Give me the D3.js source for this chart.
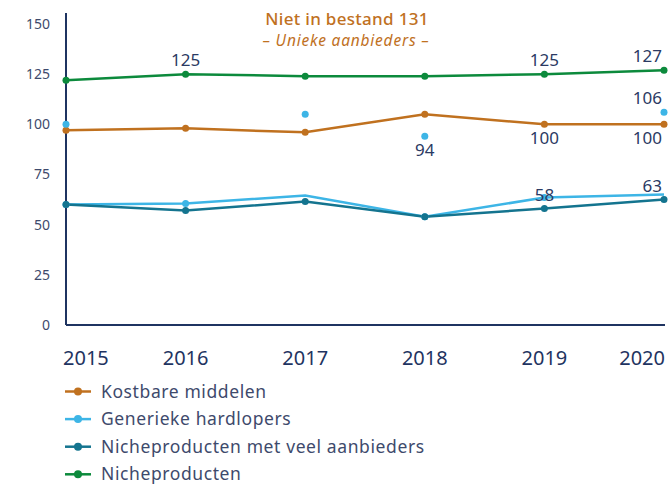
<!DOCTYPE html>
<html>
<head>
<meta charset="utf-8">
<script src="https://cdn.jsdelivr.net/npm/d3@7/dist/d3.min.js"></script>
<style>
  html, body { margin: 0; padding: 0; background: #fff; }
  svg { display: block; font-family: "Noto Sans", sans-serif; }
</style>
</head>
<body>
<svg id="chart" width="668" height="484"></svg>
<script>
// jaren en reeksen
const years = [2015, 2016, 2017, 2018, 2019, 2020];
const kostbare = [97, 98, 96, 105, 100, 100];
const generiek = [60, 60.5, 64.5, 54, 63.5, 65];
const nicheVeel = [60, 57, 61.5, 54, 58, 62.5];
const niche = [122, 125, 124, 124, 125, 127];
// losse punten: unieke aanbieders (niet in bestand)
const uniekYears = [2015, 2017, 2018, 2020];
const uniek = [100, 105, 94, 106];
const yTicks = [0, 25, 50, 75, 100, 125, 150];

const COLORS = {
  kostbare: "#c0711f",
  generiek: "#3db5e6",
  nicheVeel: "#14748f",
  niche: "#0c8a3c",
  axis: "#1f3461",
  text: "#2b3a63",
};

const series = [
  { key: "kostbare", name: "Kostbare middelen", values: kostbare },
  { key: "generiek", name: "Generieke hardlopers", values: generiek },
  { key: "nicheVeel", name: "Nicheproducten met veel aanbieders", values: nicheVeel },
  { key: "niche", name: "Nicheproducten", values: niche },
];

// welke punten een getal krijgen
const labels = [
  { year: 2016, value: niche[1], text: "125", pos: "above" },
  { year: 2019, value: niche[4], text: "125", pos: "above" },
  { year: 2020, value: niche[5], text: "127", pos: "above" },
  { year: 2020, value: uniek[3], text: "106", pos: "above" },
  { year: 2018, value: uniek[2], text: "94", pos: "below" },
  { year: 2019, value: kostbare[4], text: "100", pos: "below" },
  { year: 2020, value: kostbare[5], text: "100", pos: "below" },
  { year: 2019, value: nicheVeel[4], text: "58", pos: "above" },
  { year: 2020, value: nicheVeel[5], text: "63", pos: "above" },
];

const svg = d3.select("#chart");

const x = d3.scalePoint().domain(years).range([66, 664]);
const y = d3.scaleLinear().domain([0, 150]).range([325, 24]);

// y-as labels
svg.append("g")
  .selectAll("text")
  .data(yTicks)
  .join("text")
  .attr("x", 50)
  .attr("y", d => y(d))
  .attr("dy", "0.35em")
  .attr("text-anchor", "end")
  .attr("font-size", 14)
  .attr("fill", "#3e4a6c")
  .text(d => d);

// x-as labels (eerste en laatste binnen de rand houden)
svg.append("g")
  .selectAll("text")
  .data(years)
  .join("text")
  .attr("x", (d, i) => i === 0 ? 63 : i === years.length - 1 ? 665 : x(d))
  .attr("y", 365)
  .attr("text-anchor", (d, i) => i === 0 ? "start" : i === years.length - 1 ? "end" : "middle")
  .attr("font-size", 20)
  .attr("fill", COLORS.axis)
  .text(d => d);

// assen
svg.append("line")
  .attr("x1", 66).attr("x2", 66)
  .attr("y1", 13).attr("y2", y(0))
  .attr("stroke", COLORS.axis).attr("stroke-width", 2);
svg.append("line")
  .attr("x1", 66).attr("x2", 665)
  .attr("y1", y(0)).attr("y2", y(0))
  .attr("stroke", COLORS.axis).attr("stroke-width", 2);

const line = d3.line()
  .x((d, i) => x(years[i]))
  .y(d => y(d));

const g = svg.append("g");
series.forEach(s => {
  g.append("path")
    .datum(s.values)
    .attr("fill", "none")
    .attr("stroke", COLORS[s.key])
    .attr("stroke-width", 2.5)
    .attr("d", line);
});
series.forEach(s => {
  g.selectAll(null)
    .data(s.values)
    .join("circle")
    .attr("cx", (d, i) => x(years[i]))
    .attr("cy", d => y(d))
    .attr("r", (d, i) => (s.key === "generiek" && (i === 2 || i === 5)) ? 0 : 3.5)
    .attr("fill", COLORS[s.key]);
});

// losse blauwe punten
g.selectAll(null)
  .data(uniek)
  .join("circle")
  .attr("cx", (d, i) => x(uniekYears[i]))
  .attr("cy", d => y(d))
  .attr("r", 3.5)
  .attr("fill", COLORS.generiek);

// waardelabels
svg.append("g")
  .selectAll("text")
  .data(labels)
  .join("text")
  .attr("x", d => d.year === 2020 ? 662 : x(d.year))
  .attr("y", d => d.pos === "above" ? y(d.value) - 8 : y(d.value) + 20)
  .attr("text-anchor", d => d.year === 2020 ? "end" : "middle")
  .attr("font-size", 17)
  .attr("fill", COLORS.text)
  .text(d => d.text);

// titel
svg.append("text")
  .attr("x", 347).attr("y", 25)
  .attr("text-anchor", "middle")
  .attr("font-size", 17)
  .attr("font-weight", 500)
  .attr("letter-spacing", 0.3)
  .attr("fill", COLORS.kostbare)
  .text("Niet in bestand 131");
svg.append("text")
  .attr("x", 346).attr("y", 46)
  .attr("text-anchor", "middle")
  .attr("font-size", 15.5)
  .attr("font-style", "italic")
  .attr("letter-spacing", 0.8)
  .attr("fill", COLORS.kostbare)
  .text("– Unieke aanbieders –");

// legenda
const legend = svg.append("g")
  .selectAll("g")
  .data(series)
  .join("g")
  .attr("transform", (d, i) => `translate(0,${391.5 + i * 27.6})`);
legend.append("line")
  .attr("x1", 65).attr("x2", 91)
  .attr("stroke", d => COLORS[d.key]).attr("stroke-width", 2.5);
legend.append("circle")
  .attr("cx", 78).attr("r", 4)
  .attr("fill", d => COLORS[d.key]);
legend.append("text")
  .attr("x", 101)
  .attr("dy", "0.35em")
  .attr("font-size", 17.5)
  .attr("letter-spacing", 0.6)
  .attr("fill", "#3e4a6c")
  .text(d => d.name);
</script>
</body>
</html>
